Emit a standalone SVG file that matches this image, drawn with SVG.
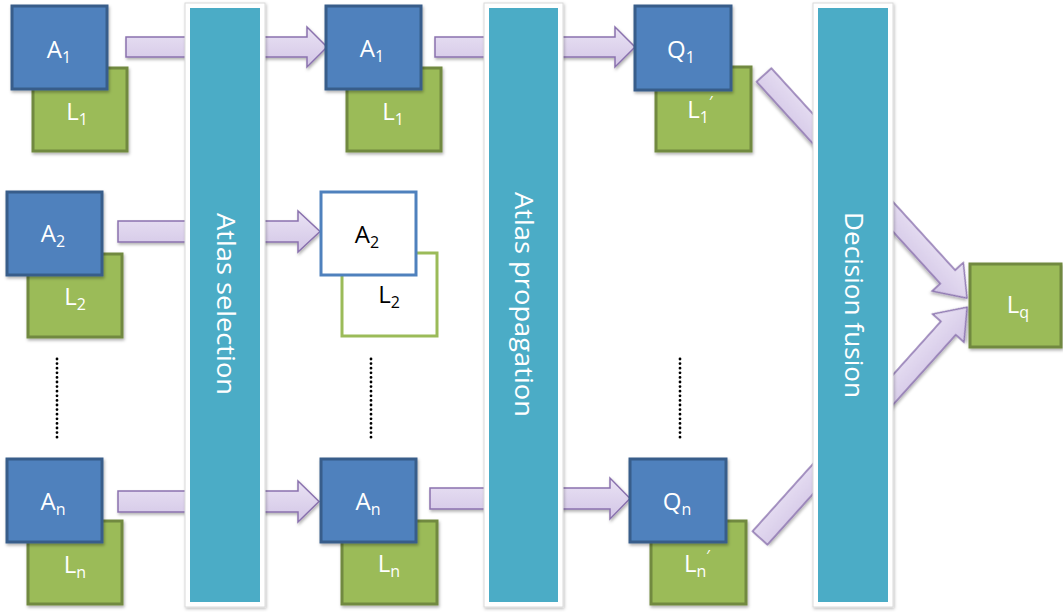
<svg xmlns="http://www.w3.org/2000/svg" width="1063" height="612" viewBox="0 0 1063 612">
<defs>
  <linearGradient id="arrGrad" x1="0" y1="0" x2="0" y2="1">
    <stop offset="0" stop-color="#E9E2F4"/>
    <stop offset="1" stop-color="#D3C6E6"/>
  </linearGradient>
  <filter id="sh" x="-10%" y="-10%" width="130%" height="130%">
    <feDropShadow dx="1" dy="2" stdDeviation="1.5" flood-color="#000" flood-opacity="0.3"/>
  </filter>
  <filter id="shBar" x="-20%" y="-5%" width="140%" height="110%">
    <feDropShadow dx="1" dy="1.5" stdDeviation="1.5" flood-color="#000" flood-opacity="0.25"/>
  </filter>
</defs>
<style>
  .arrow { fill: url(#arrGrad); stroke: #8A72AE; stroke-width: 1.5; stroke-linejoin: miter; filter: url(#sh); }
  .barOuter { fill: #FFFFFF; stroke: #DADADA; stroke-width: 1; filter: url(#shBar); }
  .barInner { fill: #4BACC6; }
  .bluebox { fill: #4F81BD; stroke: #385D8A; stroke-width: 3; filter: url(#sh); }
  .greenbox { fill: #9BBB59; stroke: #71893F; stroke-width: 3; filter: url(#sh); }
  .blueline { fill: #FFFFFF; stroke: #4F81BD; stroke-width: 3; }
  .greenline { fill: #FFFFFF; stroke: #9BBB59; stroke-width: 3; }
  .lbl { font-family: "Open Sans", "Liberation Sans", sans-serif; font-size: 24px; fill: #FFFFFF; text-anchor: middle; }
  .lblDark { font-family: "Open Sans", "Liberation Sans", sans-serif; font-size: 24px; fill: #000000; text-anchor: middle; }
  .sub { font-size: 16px; }
  .barText { font-family: "Open Sans", "Liberation Sans", sans-serif; font-size: 25px; fill: #FFFFFF; text-anchor: middle; }
  .dots { stroke: #000000; stroke-width: 2.8; stroke-linecap: round; stroke-dasharray: 0 4.6; fill: none; }
</style>

<g id="connectors">
  <polygon class="arrow" points="126,37 307,37 307,27 327,47 307,67 307,57 126,57"/>
  <polygon class="arrow" points="435,37 615,37 615,27 635,47 615,67 615,57 435,57"/>
  <polygon class="arrow" points="118,221 298,221 298,211 320,231.5 298,252 298,242 118,242"/>
  <polygon class="arrow" points="118,491 298,491 298,481 319,501.5 298,522 298,512 118,512"/>
  <polygon class="arrow" points="430,488 610,488 610,478 630,498.5 610,519 610,509 430,509"/>
  <polygon class="arrow" transform="translate(764,75) rotate(47.7)" points="0,-10 273,-10 273,-21 301.6,0 273,21 273,10 0,10"/>
  <polygon class="arrow" transform="translate(760,538) rotate(-48.1)" points="0,-10 282,-10 282,-21 310,0 282,21 282,10 0,10"/>
</g>

<g id="bar-selection">
  <rect class="barOuter" x="185" y="3" width="80" height="604"/>
  <rect class="barInner" x="190" y="8" width="70" height="594"/>
  <text class="barText" transform="translate(217,304) rotate(90)" textLength="182" lengthAdjust="spacingAndGlyphs">Atlas selection</text>
</g>
<g id="bar-propagation">
  <rect class="barOuter" x="484" y="3" width="79" height="604"/>
  <rect class="barInner" x="489" y="8" width="69" height="594"/>
  <text class="barText" transform="translate(515,304.5) rotate(90)" textLength="225" lengthAdjust="spacingAndGlyphs">Atlas propagation</text>
</g>
<g id="bar-fusion">
  <rect class="barOuter" x="813" y="3" width="80" height="604"/>
  <rect class="barInner" x="818" y="8" width="70" height="594"/>
  <text class="barText" transform="translate(845,305) rotate(90)" textLength="186" lengthAdjust="spacingAndGlyphs">Decision fusion</text>
</g>

<!-- Left column -->
<g id="L1-left">
  <rect class="greenbox" x="33" y="68" width="94" height="83"/>
  <text class="lbl" x="77" y="120">L<tspan class="sub" dy="5">1</tspan></text>
</g>
<g id="A1-left">
  <rect class="bluebox" x="12" y="6" width="95" height="83"/>
  <text class="lbl" x="59" y="58">A<tspan class="sub" dy="5">1</tspan></text>
</g>
<g id="L2-left">
  <rect class="greenbox" x="28" y="254" width="94" height="83"/>
  <text class="lbl" x="75" y="305">L<tspan class="sub" dy="5">2</tspan></text>
</g>
<g id="A2-left">
  <rect class="bluebox" x="7" y="192" width="95" height="83"/>
  <text class="lbl" x="53" y="242">A<tspan class="sub" dy="5">2</tspan></text>
</g>
<g id="dots-left">
  <line class="dots" x1="57" y1="359" x2="57" y2="440"/>
</g>
<g id="Ln-left">
  <rect class="greenbox" x="28" y="521" width="94" height="83"/>
  <text class="lbl" x="75" y="573">L<tspan class="sub" dy="5">n</tspan></text>
</g>
<g id="An-left">
  <rect class="bluebox" x="7" y="459" width="95" height="83"/>
  <text class="lbl" x="53" y="510">A<tspan class="sub" dy="5">n</tspan></text>
</g>

<!-- Middle column -->
<g id="L1-mid">
  <rect class="greenbox" x="347" y="68" width="94" height="83"/>
  <text class="lbl" x="393" y="120">L<tspan class="sub" dy="5">1</tspan></text>
</g>
<g id="A1-mid">
  <rect class="bluebox" x="326" y="6" width="95" height="83"/>
  <text class="lbl" x="372" y="57">A<tspan class="sub" dy="5">1</tspan></text>
</g>
<g id="L2-mid">
  <rect class="greenline" x="342" y="253" width="95" height="83"/>
  <text class="lblDark" x="389" y="303">L<tspan class="sub" dy="5">2</tspan></text>
</g>
<g id="A2-mid">
  <rect class="blueline" x="321" y="192" width="95" height="83"/>
  <text class="lblDark" x="367" y="243">A<tspan class="sub" dy="5">2</tspan></text>
</g>
<g id="dots-mid">
  <line class="dots" x1="371" y1="359" x2="371" y2="440"/>
</g>
<g id="Ln-mid">
  <rect class="greenbox" x="342" y="521" width="95" height="83"/>
  <text class="lbl" x="389" y="572">L<tspan class="sub" dy="5">n</tspan></text>
</g>
<g id="An-mid">
  <rect class="bluebox" x="321" y="459" width="95" height="83"/>
  <text class="lbl" x="368" y="510">A<tspan class="sub" dy="5">n</tspan></text>
</g>

<!-- Right column -->
<g id="L1p">
  <rect class="greenbox" x="656" y="67" width="95" height="84"/>
  <text class="lbl" x="700" y="118">L<tspan class="sub" dy="5">1</tspan><tspan class="sub" dy="-15">′</tspan></text>
</g>
<g id="Q1">
  <rect class="bluebox" x="635" y="6" width="96" height="84"/>
  <text class="lbl" x="681" y="58">Q<tspan class="sub" dy="5">1</tspan></text>
</g>
<g id="dots-right">
  <line class="dots" x1="680" y1="359" x2="680" y2="439"/>
</g>
<g id="Lnp">
  <rect class="greenbox" x="651" y="521" width="95" height="83"/>
  <text class="lbl" x="697" y="572">L<tspan class="sub" dy="5">n</tspan><tspan class="sub" dy="-15">′</tspan></text>
</g>
<g id="Qn">
  <rect class="bluebox" x="630" y="459" width="96" height="83"/>
  <text class="lbl" x="677" y="510">Q<tspan class="sub" dy="5">n</tspan></text>
</g>

<g id="Lq">
  <rect class="greenbox" x="970" y="264" width="91" height="83"/>
  <text class="lbl" x="1018" y="313">L<tspan class="sub" dy="5">q</tspan></text>
</g>
</svg>
